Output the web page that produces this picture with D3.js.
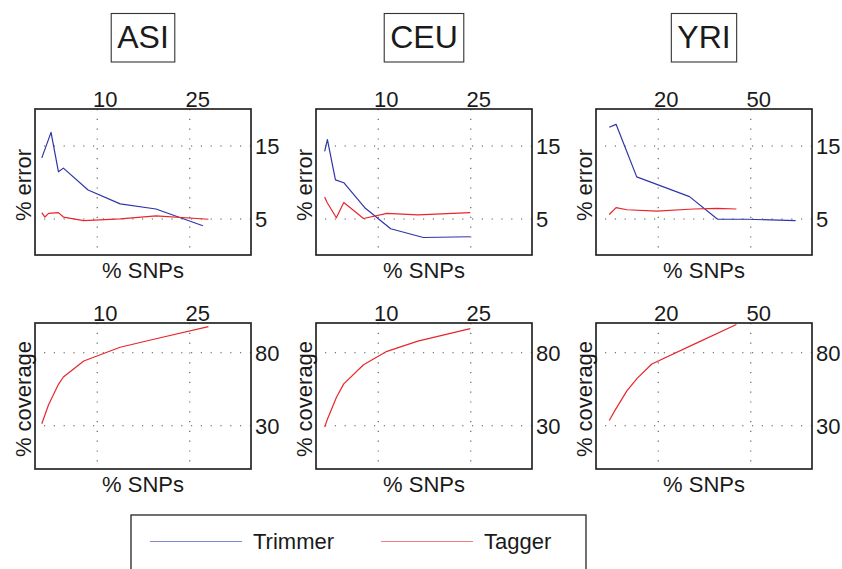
<!DOCTYPE html>
<html>
<head>
<meta charset="utf-8">
<script src="https://cdn.jsdelivr.net/npm/d3@7"></script>
<style>
  html, body { margin: 0; padding: 0; background: #fff; }
  svg { display: block; }
  text { font-family: "Liberation Sans", Arial, Helvetica, sans-serif; fill: #1a1a1a; }
</style>
</head>
<body>
<svg id="chart" width="842" height="569"></svg>
<script>
// Populations and their x-axis (percent of SNPs) settings
const populations = ["ASI", "CEU", "YRI"];
const snpMax = [35, 35, 70];
const snpTicks = [[10, 25], [10, 25], [20, 50]];
const errorTicks = [5, 15];
const coverageTicks = [30, 80];
const seriesNames = ["Trimmer", "Tagger"];

// ASI
const asiTrimmerSnps = [1.1, 2.6, 3.8, 4.6, 8.6, 13.8, 19.6, 27.2];
const asiTrimmerError = [13.3, 16.8, 11.4, 11.9, 8.9, 7.0, 6.3, 4.0];
const asiTaggerSnps = [1.1, 1.6, 2.2, 3.8, 4.6, 7.9, 13.8, 19.6, 28.1];
const asiTaggerError = [5.8, 5.2, 5.7, 5.8, 5.2, 4.7, 4.95, 5.35, 4.9];
const asiTaggerCoverage = [31, 37, 44, 58, 63, 74, 83.4, 89.2, 97.5];

// CEU
const ceuTrimmerSnps = [1.4, 1.85, 3.15, 4.5, 8.0, 12.1, 17.4, 25.0];
const ceuTrimmerError = [14.2, 15.8, 10.3, 9.9, 6.4, 3.6, 2.4, 2.5];
const ceuTaggerSnps = [1.4, 1.8, 3.3, 4.5, 7.7, 11.5, 16.5, 25.0];
const ceuTaggerError = [7.95, 7.2, 5.1, 7.2, 5.0, 5.7, 5.5, 5.8];
const ceuTaggerCoverage = [28.8, 33.5, 49, 58.3, 71.4, 80.6, 87.6, 96.1];

// YRI
const yriTrimmerSnps = [4.3, 6.5, 13.2, 30.3, 39.4, 49.0, 64.7];
const yriTrimmerError = [17.5, 17.9, 10.7, 8.0, 4.9, 4.9, 4.7];
const yriTaggerSnps = [4.3, 6.5, 10.0, 19.7, 31.6, 39.2, 45.5];
const yriTaggerError = [5.55, 6.5, 6.2, 6.0, 6.3, 6.4, 6.3];
const yriCoverageSnps = [4.3, 6.2, 10.0, 13.4, 18.1, 32.7, 45.5];
const yriTaggerCoverage = [33.2, 40.3, 53.5, 62.2, 71.9, 86.4, 99];

const zip = (xs, ys) => xs.map((x, i) => ({ x, y: ys[i] }));

const errorSeries = [
  [zip(asiTrimmerSnps, asiTrimmerError), zip(asiTaggerSnps, asiTaggerError)],
  [zip(ceuTrimmerSnps, ceuTrimmerError), zip(ceuTaggerSnps, ceuTaggerError)],
  [zip(yriTrimmerSnps, yriTrimmerError), zip(yriTaggerSnps, yriTaggerError)]
];
const coverageSeries = [
  zip(asiTaggerSnps, asiTaggerCoverage),
  zip(ceuTaggerSnps, ceuTaggerCoverage),
  zip(yriCoverageSnps, yriTaggerCoverage)
];

const colors = { Trimmer: "#2e36a6", Tagger: "#e8262b" };
const FONT = 22;

const svg = d3.select("#chart");

// Panel geometry
const colLeft = [35, 316, 596];
const panelW = 216;
const rowTop = [109, 323];
const panelH = 146;

const rows = [
  { label: "% error", domain: [0, 20], ticks: errorTicks },
  { label: "% coverage", domain: [0, 100], ticks: coverageTicks }
];

populations.forEach((pop, c) => {
  const left = colLeft[c];
  const cx = left + panelW / 2;

  // Boxed population title
  const tg = svg.append("g");
  const tt = tg.append("text")
    .attr("x", cx).attr("y", 48)
    .attr("text-anchor", "middle")
    .attr("font-size", 32)
    .text(pop);
  const bb = tt.node().getBBox();
  tg.insert("rect", "text")
    .attr("x", bb.x - 6).attr("y", 13.5)
    .attr("width", bb.width + 12).attr("height", 48.5)
    .attr("fill", "#fff").attr("stroke", "#333").attr("stroke-width", 1.1);

  rows.forEach((row, r) => {
    const top = rowTop[r];
    const x = d3.scaleLinear().domain([0, snpMax[c]]).range([left, left + panelW]);
    const y = d3.scaleLinear().domain(row.domain).range([top + panelH, top]);

    const g = svg.append("g");

    // Top axis: tick labels and vertical dotted grid
    const xa = g.append("g")
      .attr("transform", `translate(0,${top})`)
      .call(d3.axisTop(x).tickValues(snpTicks[c]).tickSize(-panelH).tickPadding(2).tickFormat(d3.format("d")));
    // Right axis: tick labels and horizontal dotted grid
    const ya = g.append("g")
      .attr("transform", `translate(${left + panelW},0)`)
      .call(d3.axisRight(y).tickValues(row.ticks).tickSize(-panelW).tickPadding(4).tickFormat(d3.format("d")));

    [xa, ya].forEach(a => {
      a.attr("font-family", null).attr("font-size", null);
      a.select(".domain").remove();
      a.selectAll(".tick line")
        .attr("stroke", "#555").attr("stroke-width", 1.1)
        .attr("stroke-dasharray", "1.2,8.6");
      a.selectAll(".tick text").attr("font-size", FONT).attr("fill", "#1a1a1a");
    });
    xa.selectAll(".tick text").attr("x", 8);
    ya.selectAll(".tick text").attr("dy", "0.38em");

    // Data lines
    const line = d3.line().x(d => x(d.x)).y(d => y(d.y));
    const drawn = r === 0
      ? errorSeries[c].map((pts, i) => ({ name: seriesNames[i], pts }))
      : [{ name: "Tagger", pts: coverageSeries[c] }];
    g.selectAll("path.series").data(drawn).enter().append("path")
      .attr("class", "series")
      .attr("d", d => line(d.pts))
      .attr("fill", "none")
      .attr("stroke", d => colors[d.name])
      .attr("stroke-width", 1.2)
      .attr("stroke-linejoin", "round");

    // Frame
    g.append("rect")
      .attr("x", left).attr("y", top)
      .attr("width", panelW).attr("height", panelH)
      .attr("fill", "none").attr("stroke", "#262626").attr("stroke-width", 1.7);

    // Axis titles
    g.append("text")
      .attr("transform", `translate(${left - 4},${top + panelH / 2 + 3}) rotate(-90)`)
      .attr("text-anchor", "middle")
      .attr("font-size", FONT)
      .text(row.label);
    g.append("text")
      .attr("x", cx).attr("y", top + panelH + 23)
      .attr("text-anchor", "middle")
      .attr("font-size", FONT)
      .text("% SNPs");
  });
});

// Legend
const lg = svg.append("g");
lg.append("rect")
  .attr("x", 131).attr("y", 515).attr("width", 455).attr("height", 100)
  .attr("fill", "#fff").attr("stroke", "#262626").attr("stroke-width", 1.3);
const legendX = [150, 381];
seriesNames.forEach((name, i) => {
  lg.append("line")
    .attr("x1", legendX[i]).attr("x2", legendX[i] + 92)
    .attr("y1", 541.5).attr("y2", 541.5)
    .attr("stroke", colors[name]).attr("stroke-width", 1.1).attr("stroke-opacity", 0.6);
  lg.append("text")
    .attr("x", legendX[i] + 103).attr("y", 549)
    .attr("font-size", FONT)
    .text(name);
});
</script>
</body>
</html>
